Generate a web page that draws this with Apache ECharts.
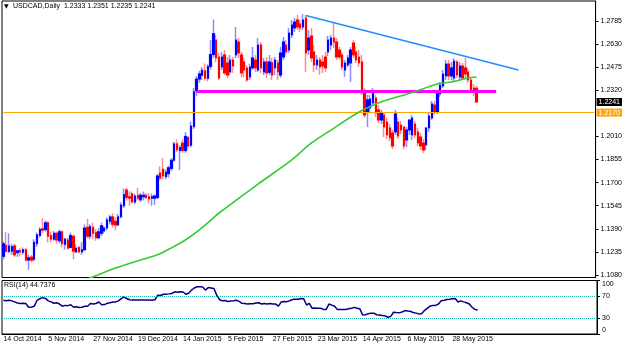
<!DOCTYPE html>
<html>
<head>
<meta charset="utf-8">
<script src="https://cdn.jsdelivr.net/npm/echarts@6/dist/echarts.min.js"></script>
<style>
  html, body { margin: 0; padding: 0; background: #fff; }
  #chart { width: 625px; height: 347px; }
</style>
</head>
<body>
<div id="chart"></div>
<script>
// tick labels
const tickLabels = ['14 Oct 2014', '5 Nov 2014', '27 Nov 2014', '19 Dec 2014', '14 Jan 2015', '5 Feb 2015',
  '27 Feb 2015', '23 Mar 2015', '14 Apr 2015', '6 May 2015', '28 May 2015'];
const priceTicks = [1.1080, 1.1235, 1.1390, 1.1545, 1.1700, 1.1855, 1.2010, 1.2320, 1.2475, 1.2630, 1.2785];
const rsiTicks = [0, 30, 70, 100];

// daily bars: [open, close, low, high]
const candles = [
  [1.1205, 1.1290, 1.1185, 1.1305], [1.1280, 1.1238, 1.1230, 1.1370], [1.1238, 1.1275, 1.1225, 1.1360],
  [1.1240, 1.1270, 1.1215, 1.1290], [1.1275, 1.1215, 1.1200, 1.1290], [1.1230, 1.1242, 1.1200, 1.1250],
  [1.1245, 1.1235, 1.1205, 1.1260], [1.1232, 1.1250, 1.1215, 1.1265], [1.1250, 1.1180, 1.1170, 1.1262],
  [1.1180, 1.1195, 1.1113, 1.1215], [1.1200, 1.1180, 1.1165, 1.1215], [1.1185, 1.1300, 1.1170, 1.1320],
  [1.1290, 1.1350, 1.1270, 1.1365], [1.1345, 1.1385, 1.1330, 1.1400], [1.1390, 1.1380, 1.1360, 1.1460],
  [1.1385, 1.1430, 1.1370, 1.1445], [1.1430, 1.1340, 1.1300, 1.1440], [1.1345, 1.1320, 1.1300, 1.1370],
  [1.1320, 1.1360, 1.1310, 1.1375], [1.1360, 1.1315, 1.1290, 1.1370], [1.1310, 1.1370, 1.1295, 1.1385],
  [1.1370, 1.1290, 1.1265, 1.1380], [1.1285, 1.1320, 1.1250, 1.1330], [1.1315, 1.1260, 1.1250, 1.1330],
  [1.1265, 1.1345, 1.1260, 1.1365], [1.1340, 1.1240, 1.1185, 1.1350], [1.1235, 1.1260, 1.1225, 1.1285],
  [1.1265, 1.1235, 1.1225, 1.1275], [1.1235, 1.1250, 1.1215, 1.1300], [1.1250, 1.1395, 1.1240, 1.1420],
  [1.1400, 1.1340, 1.1325, 1.1455], [1.1340, 1.1405, 1.1320, 1.1420], [1.1400, 1.1360, 1.1320, 1.1430],
  [1.1365, 1.1330, 1.1310, 1.1390], [1.1330, 1.1370, 1.1320, 1.1395], [1.1360, 1.1410, 1.1340, 1.1430],
  [1.1375, 1.1395, 1.1360, 1.1410], [1.1395, 1.1450, 1.1380, 1.1465], [1.1440, 1.1470, 1.1420, 1.1485],
  [1.1470, 1.1420, 1.1400, 1.1495], [1.1440, 1.1415, 1.1380, 1.1465], [1.1415, 1.1470, 1.1410, 1.1490],
  [1.1470, 1.1550, 1.1460, 1.1570], [1.1545, 1.1620, 1.1530, 1.1660], [1.1650, 1.1600, 1.1580, 1.1665],
  [1.1605, 1.1595, 1.1545, 1.1640], [1.1625, 1.1570, 1.1560, 1.1640], [1.1570, 1.1610, 1.1555, 1.1625],
  [1.1615, 1.1595, 1.1580, 1.1665], [1.1585, 1.1615, 1.1570, 1.1630], [1.1605, 1.1615, 1.1580, 1.1640],
  [1.1615, 1.1600, 1.1590, 1.1630], [1.1605, 1.1590, 1.1560, 1.1630], [1.1595, 1.1605, 1.1545, 1.1625],
  [1.1595, 1.1610, 1.1550, 1.1620], [1.1600, 1.1745, 1.1590, 1.1760], [1.1765, 1.1730, 1.1715, 1.1810],
  [1.1790, 1.1745, 1.1720, 1.1865], [1.1740, 1.1770, 1.1720, 1.1790], [1.1760, 1.1800, 1.1735, 1.1815],
  [1.1795, 1.1850, 1.1780, 1.1865], [1.1850, 1.1960, 1.1840, 1.1975], [1.1960, 1.1920, 1.1905, 1.1990],
  [1.1915, 1.1935, 1.1785, 1.1950], [1.1965, 1.1915, 1.1900, 1.1990], [1.1915, 1.2010, 1.1900, 1.2040],
  [1.2005, 1.1945, 1.1920, 1.2010], [1.1950, 1.2080, 1.1935, 1.2110], [1.2075, 1.2310, 1.2060, 1.2335],
  [1.2315, 1.2395, 1.2280, 1.2415], [1.2395, 1.2430, 1.2370, 1.2450], [1.2420, 1.2455, 1.2390, 1.2475],
  [1.2450, 1.2400, 1.2385, 1.2500], [1.2400, 1.2480, 1.2380, 1.2495], [1.2480, 1.2560, 1.2460, 1.2655],
  [1.2560, 1.2700, 1.2540, 1.2795], [1.2657, 1.2537, 1.2510, 1.2691], [1.2543, 1.2402, 1.2389, 1.2570],
  [1.2476, 1.2543, 1.2456, 1.2577], [1.2557, 1.2436, 1.2422, 1.2590], [1.2503, 1.2422, 1.2402, 1.2543],
  [1.2443, 1.2523, 1.2422, 1.2557], [1.2523, 1.2483, 1.2436, 1.2543], [1.2557, 1.2657, 1.2537, 1.2745],
  [1.2644, 1.2570, 1.2537, 1.2671], [1.2557, 1.2436, 1.2409, 1.2577], [1.2510, 1.2456, 1.2409, 1.2537],
  [1.2470, 1.2389, 1.2376, 1.2490], [1.2409, 1.2476, 1.2389, 1.2497], [1.2470, 1.2537, 1.2456, 1.2610],
  [1.2523, 1.2470, 1.2443, 1.2557], [1.2456, 1.2624, 1.2443, 1.2671], [1.2624, 1.2470, 1.2436, 1.2644],
  [1.2443, 1.2510, 1.2422, 1.2537], [1.2510, 1.2436, 1.2402, 1.2543], [1.2440, 1.2510, 1.2422, 1.2557],
  [1.2505, 1.2422, 1.2389, 1.2537], [1.2470, 1.2523, 1.2422, 1.2543], [1.2503, 1.2443, 1.2389, 1.2523],
  [1.2422, 1.2570, 1.2402, 1.2610], [1.2543, 1.2644, 1.2523, 1.2678], [1.2624, 1.2577, 1.2557, 1.2657],
  [1.2590, 1.2704, 1.2570, 1.2738], [1.2691, 1.2758, 1.2671, 1.2792], [1.2738, 1.2778, 1.2711, 1.2805],
  [1.2792, 1.2745, 1.2725, 1.2825], [1.2765, 1.2738, 1.2711, 1.2792], [1.2745, 1.2792, 1.2725, 1.2832],
  [1.2805, 1.2570, 1.2443, 1.2825], [1.2590, 1.2671, 1.2557, 1.2725], [1.2684, 1.2537, 1.2510, 1.2738],
  [1.2577, 1.2490, 1.2443, 1.2624], [1.2490, 1.2523, 1.2456, 1.2557], [1.2523, 1.2476, 1.2422, 1.2543],
  [1.2510, 1.2483, 1.2436, 1.2557], [1.2543, 1.2470, 1.2443, 1.2577], [1.2577, 1.2657, 1.2550, 1.2684],
  [1.2624, 1.2671, 1.2590, 1.2691], [1.2671, 1.2644, 1.2604, 1.2771], [1.2644, 1.2543, 1.2523, 1.2671],
  [1.2590, 1.2543, 1.2523, 1.2610], [1.2557, 1.2476, 1.2456, 1.2577], [1.2456, 1.2503, 1.2409, 1.2523],
  [1.2490, 1.2537, 1.2476, 1.2557], [1.2503, 1.2590, 1.2376, 1.2610], [1.2637, 1.2557, 1.2537, 1.2657],
  [1.2577, 1.2523, 1.2503, 1.2610], [1.2543, 1.2503, 1.2476, 1.2590], [1.2510, 1.2308, 1.2288, 1.2557],
  [1.2308, 1.2154, 1.2134, 1.2335], [1.2174, 1.2255, 1.2073, 1.2288], [1.2201, 1.2261, 1.2174, 1.2288],
  [1.2235, 1.2302, 1.2214, 1.2335], [1.2268, 1.2167, 1.2141, 1.2288], [1.2188, 1.2120, 1.2100, 1.2221],
  [1.2120, 1.2167, 1.2094, 1.2188], [1.2154, 1.2073, 1.2006, 1.2174], [1.2107, 1.2020, 1.1993, 1.2134],
  [1.2067, 1.2000, 1.1980, 1.2094], [1.2033, 1.1946, 1.1926, 1.2053], [1.2040, 1.2161, 1.2020, 1.2188],
  [1.2107, 1.2013, 1.1993, 1.2134], [1.2087, 1.2053, 1.2026, 1.2114], [1.2073, 1.1946, 1.1926, 1.2080],
  [1.1986, 1.2053, 1.1939, 1.2073], [1.2053, 1.2120, 1.2020, 1.2127], [1.2020, 1.2134, 1.1986, 1.2154],
  [1.2094, 1.2020, 1.2000, 1.2114], [1.2040, 1.1966, 1.1946, 1.2067], [1.2006, 1.1946, 1.1919, 1.2033],
  [1.1966, 1.1919, 1.1899, 1.1993], [1.1953, 1.2067, 1.1919, 1.2073], [1.2067, 1.2147, 1.2040, 1.2167],
  [1.2134, 1.2228, 1.2120, 1.2248], [1.2221, 1.2174, 1.2154, 1.2248], [1.2174, 1.2302, 1.2161, 1.2322],
  [1.2295, 1.2355, 1.2275, 1.2375], [1.2349, 1.2429, 1.2335, 1.2456], [1.2416, 1.2496, 1.2389, 1.2523],
  [1.2496, 1.2416, 1.2389, 1.2523], [1.2416, 1.2470, 1.2389, 1.2510], [1.2402, 1.2516, 1.2376, 1.2537],
  [1.2510, 1.2422, 1.2402, 1.2523], [1.2409, 1.2483, 1.2389, 1.2510], [1.2483, 1.2402, 1.2389, 1.2503],
  [1.2470, 1.2429, 1.2402, 1.2537], [1.2443, 1.2389, 1.2369, 1.2470], [1.2389, 1.2322, 1.2302, 1.2409],
  [1.2335, 1.2308, 1.2282, 1.2362], [1.2333, 1.2241, 1.2235, 1.2351]
];

// RSI(14), one value per bar
const rsi = [
  63, 62, 63, 62, 60, 58, 57, 57.5, 57, 50, 50.5, 52, 63, 66, 68, 66.5, 62, 60, 57.5, 58.5,
  56, 52, 53.5, 53, 54.6, 50, 51, 49.4, 50, 52, 52, 57, 56, 57, 59.8, 54.5, 55, 57.3, 58.5, 59.8,
  60, 62, 66, 69.4, 65.8, 64, 63.4, 63.5, 63.4, 63.4, 63.5, 63.4, 63.4, 63.2, 64, 72.6, 72, 74.4, 74.5, 75,
  75.7, 78.9, 78, 78.9, 78.5, 74.4, 76, 82, 86, 88.3, 88.3, 88, 82, 87, 86, 85, 72.6, 64.5, 62, 62.5,
  60.9, 61.5, 62, 63, 61, 57.3, 57, 56, 56.5, 56.5, 58, 58.5, 56, 57, 56, 57, 56, 56, 52, 60,
  60.9, 60.5, 62, 64.5, 65, 65, 66.4, 66, 54.2, 57.3, 48, 48.5, 48, 48, 46, 46, 56, 54, 52, 46,
  46, 46, 46, 47, 48, 49.7, 48, 47, 35.6, 36, 38, 39, 39, 36, 35.6, 34.4, 34, 31.3, 33, 40.7,
  40, 39.5, 41, 43.8, 43, 42.5, 40, 39, 37.6, 38, 43.8, 48, 52, 53.5, 53.5, 56, 62, 63, 64.5, 65,
  65.7, 66.4, 59.8, 62, 60, 58.5, 56, 50, 46, 44.7
];

// moving average: [bar index, price]
const maPoints = [
  [28, 1.1045], [32, 1.1067], [40, 1.1127], [49, 1.1181], [55, 1.1215], [60, 1.1262], [65, 1.1315],
  [70, 1.1382], [75, 1.1463], [77, 1.1496], [90, 1.1677], [103, 1.1852], [110, 1.1966], [116, 1.2040],
  [127, 1.2174], [134, 1.2235], [146, 1.2305], [155, 1.2362], [160, 1.2375], [166, 1.2402], [169, 1.2409]
];

const trendLine = [[108, 1.2821], [184, 1.2456]];
const supportLine = [[69, 1.2315], [176, 1.2315]];
const orangeLevel = 1.2170;
const lastPrice = 1.2241;
const header = ['USDCAD,Daily', '1.2333', '1.2351', '1.2235', '1.2241'];
const rsiLabel = 'RSI(14) 44.7376';

const barCount = 212;
const labelStep = 16;
const categories = Array.from({ length: barCount }, (_, i) => String(i));
const bodies = candles.map(([o, c]) => [o, c, Math.min(o, c), Math.max(o, c)]);
const showDate = (i) => i % labelStep === 0 && i / labelStep < tickLabels.length;

const font = 'Liberation Sans';
const priceMin = 1.1063, priceMax = 1.2919;

const chart = echarts.init(document.getElementById('chart'), null, { renderer: 'canvas' });

chart.setOption({
  animation: false,
  textStyle: { fontFamily: font },
  grid: [
    { left: 2, right: 28, top: 1, height: 276.5, show: true, borderColor: '#000', borderWidth: 1 },
    { left: 2, right: 28, top: 280.5, height: 53.5, show: true, borderColor: '#000', borderWidth: 1 }
  ],
  xAxis: [
    {
      type: 'category', gridIndex: 0, data: categories,
      axisLine: { show: false }, axisTick: { show: false }, axisLabel: { show: false }
    },
    {
      type: 'category', gridIndex: 1, data: categories,
      axisLine: { lineStyle: { color: '#000' } },
      axisTick: { alignWithLabel: true, length: 3, interval: showDate, lineStyle: { color: '#000' } },
      axisLabel: {
        interval: showDate, formatter: (v, i) => tickLabels[i / labelStep],
        align: 'left', fontSize: 7, color: '#000', margin: 2
      }
    }
  ],
  yAxis: [
    {
      type: 'value', gridIndex: 0, position: 'right', min: priceMin, max: priceMax,
      splitLine: { show: false },
      axisLine: { show: true, lineStyle: { color: '#000' } },
      axisTick: { show: true, length: 3, customValues: priceTicks, lineStyle: { color: '#000' } },
      axisLabel: { customValues: priceTicks, formatter: (v) => v.toFixed(4), fontSize: 7, color: '#000', margin: 5 }
    },
    {
      type: 'value', gridIndex: 1, position: 'right', min: 0, max: 100,
      splitLine: { show: false },
      axisLine: { show: true, lineStyle: { color: '#000' } },
      axisTick: { show: true, length: 3, customValues: rsiTicks, lineStyle: { color: '#000' } },
      axisLabel: {
        customValues: rsiTicks, fontSize: 7, color: '#000', margin: 5,
        verticalAlignMaxLabel: 'top', verticalAlignMinLabel: 'bottom'
      }
    },
    {
      // price boxes for the level line and the last price
      type: 'value', gridIndex: 0, position: 'right', min: priceMin, max: priceMax,
      splitLine: { show: false }, axisLine: { show: false }, axisTick: { show: false },
      axisLabel: {
        customValues: [orangeLevel, lastPrice], margin: 1, fontSize: 7,
        formatter: (v) => (Math.abs(v - lastPrice) < 1e-6 ? '{k|' : '{o|') + v.toFixed(4) + '}',
        rich: {
          k: { color: '#fff', backgroundColor: '#000', padding: [1, 2, 0, 2], fontSize: 7 },
          o: { color: '#fff', backgroundColor: '#ffa500', padding: [1, 2, 0, 2], fontSize: 7 }
        }
      }
    }
  ],
  series: [
    {
      // wicks (light shade)
      type: 'candlestick', xAxisIndex: 0, yAxisIndex: 0, data: candles, barWidth: 2,
      itemStyle: { color: '#8c8cff', color0: '#ff8c8c', borderColor: '#8c8cff', borderColor0: '#ff8c8c', borderWidth: 1.5 }
    },
    {
      // bodies
      type: 'candlestick', xAxisIndex: 0, yAxisIndex: 0, data: bodies, barWidth: 2,
      itemStyle: { color: '#0000ff', color0: '#ff0000', borderColor: '#0000ff', borderColor0: '#ff0000', borderWidth: 1 }
    },
    {
      name: 'ma', type: 'line', xAxisIndex: 0, yAxisIndex: 0, data: maPoints,
      smooth: 0.3, showSymbol: false, z: 5,
      lineStyle: { color: '#32cd32', width: 1.6 }
    },
    {
      name: 'drawings', type: 'line', xAxisIndex: 0, yAxisIndex: 0, data: [], z: 6,
      markLine: {
        symbol: 'none', silent: true, label: { show: false },
        data: [
          [{ coord: trendLine[0], lineStyle: { color: '#1e90ff', width: 1.5, type: 'solid' } }, { coord: trendLine[1] }],
          [{ coord: supportLine[0], lineStyle: { color: '#ff00ff', width: 3, type: 'solid' } }, { coord: supportLine[1] }],
          [{ coord: [0, orangeLevel], lineStyle: { color: '#ffa500', width: 1, type: 'solid' } }, { coord: [barCount - 1, orangeLevel] }]
        ]
      }
    },
    {
      name: 'rsi', type: 'line', xAxisIndex: 1, yAxisIndex: 1, data: rsi,
      showSymbol: false, lineStyle: { color: '#000080', width: 1.5 },
      markLine: {
        symbol: 'none', silent: true, label: { show: false },
        lineStyle: { color: '#20b2aa', width: 1, type: 'dotted' },
        data: [{ yAxis: 70 }, { yAxis: 30 }]
      }
    }
  ],
  graphic: [
    { type: 'text', left: 4, top: 3, style: { text: '▼', fontSize: 6, fontFamily: 'DejaVu Sans', fill: '#000' } },
    { type: 'text', left: 13, top: 3, style: { text: header[0] + '  ' + header.slice(1).join(' '), fontSize: 7, fontFamily: font, fill: '#000' } },
    { type: 'text', left: 4, top: 282, style: { text: rsiLabel, fontSize: 7, fontFamily: font, fill: '#000' } }
  ]
});
</script>
</body>
</html>
